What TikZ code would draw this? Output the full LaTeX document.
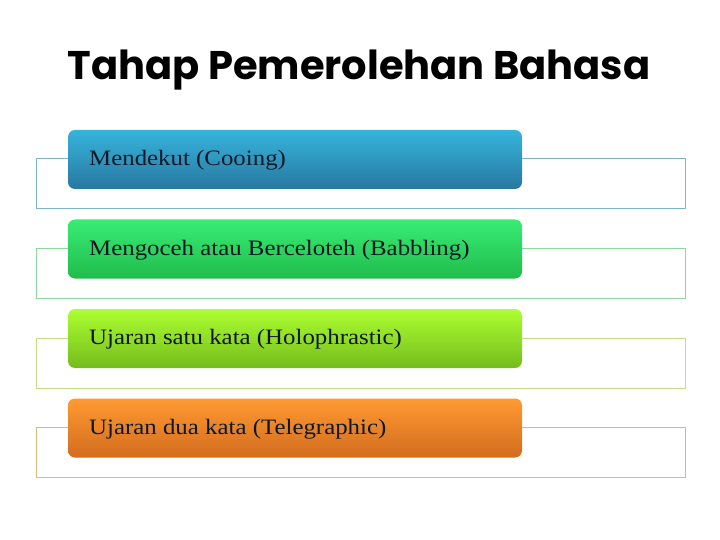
\documentclass[tikz,border=0pt]{standalone}
\usepackage{fontspec}
\setmainfont{Liberation Serif}
\newfontfamily\boxfont{Liberation Serif}[FakeStretch=1.13]
\newfontfamily\titlefont{Poppins}[UprightFont=* Bold]
\definecolor{bA}{HTML}{36B4DC}\definecolor{bB}{HTML}{2878A0}\definecolor{fb}{HTML}{7FB4CC}
\definecolor{gA}{HTML}{38EC74}\definecolor{gB}{HTML}{20BC4C}\definecolor{fg}{HTML}{8CD89C}
\definecolor{lA}{HTML}{AEFF32}\definecolor{lB}{HTML}{74BC1C}\definecolor{fl}{HTML}{C4DE88}
\definecolor{oA}{HTML}{FF9A32}\definecolor{oB}{HTML}{D26C1E}\definecolor{fo}{HTML}{DEB878}
\definecolor{ink}{HTML}{101828}
\tikzset{
  framebox/.style={draw=#1, line width=1pt, minimum width=649pt, minimum height=50pt, inner sep=0pt},
  stagebox/.style={rounded corners=7pt, minimum width=454pt, minimum height=59pt, inner sep=0pt},
  stagetext/.style={anchor=base west, inner sep=0pt, text=ink, font=\boxfont\fontsize{22}{26}\selectfont},
}
\begin{document}
\begin{tikzpicture}[x=1pt,y=-1pt]
\useasboundingbox (0,0) rectangle (720,540);
\node[font=\titlefont\fontsize{40}{46}\selectfont, anchor=base] (title) at (359,79.5) {Tahap Pemerolehan Bahasa};
\node[framebox=fb] (frame1) at (360.5,184) {};
\node[stagebox, top color=bA, bottom color=bB] (box1) at (295,159.5) {};
\node[stagetext] (text1) at (89,166) {Mendekut (Cooing)};
\node[framebox=fg] (frame2) at (360.5,273.5) {};
\node[stagebox, top color=gA, bottom color=gB] (box2) at (295,249) {};
\node[stagetext] (text2) at (89,255.3) {Mengoceh atau Berceloteh (Babbling)};
\node[framebox=fl] (frame3) at (360.5,363) {};
\node[stagebox, top color=lA, bottom color=lB] (box3) at (295,338.5) {};
\node[stagetext] (text3) at (89,344.6) {Ujaran satu kata (Holophrastic)};
\node[framebox=fo] (frame4) at (360.5,452) {};
\node[stagebox, top color=oA, bottom color=oB] (box4) at (295,428) {};
\node[stagetext] (text4) at (89,434) {Ujaran dua kata (Telegraphic)};
\end{tikzpicture}
\end{document}
